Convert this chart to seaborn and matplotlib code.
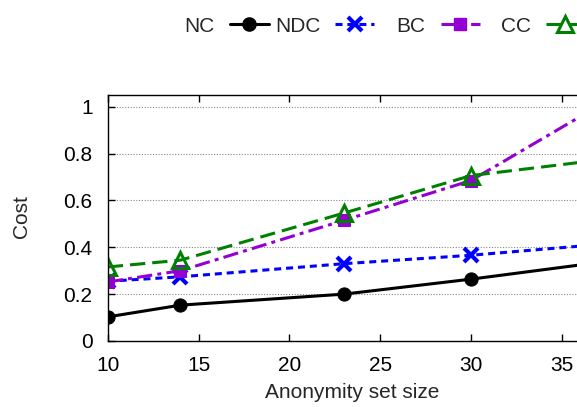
import matplotlib
matplotlib.use("Agg")
import matplotlib.pyplot as plt
import seaborn as sns
import pandas as pd
from matplotlib.lines import Line2D

x_vals = [10, 14, 23, 30, 40]
nc = [0.103, 0.153, 0.200, 0.264, 0.365]
ndc = [0.255, 0.274, 0.330, 0.366, 0.431]
bc = [0.252, 0.300, 0.515, 0.685, 1.139]
cc = [0.316, 0.345, 0.546, 0.706, 0.800]
labels = ["NC", "NDC", "BC", "CC"]
y_ticks = [0, 0.2, 0.4, 0.6, 0.8, 1]
y_ticklabels = ["0", "0.2", "0.4", "0.6", "0.8", "1"]
x_ticks = [10, 15, 20, 25, 30, 35]

sns.set_theme(style="white")
plt.rcParams['font.family'] = ['Liberation Sans', 'DejaVu Sans']

FS = 15

W, H = 577, 407
fig = plt.figure(figsize=(W / 100, H / 100), dpi=100)
# axes extend past the right edge like the cropped reference
left = 107.8 / W
bottom = (H - 341) / H
top = 1 - 95 / H
ax_w_px = 30 * 18.16
ax = fig.add_axes([left, bottom, ax_w_px / W, top - bottom])

LW = 2.2
styles = [
    dict(color="black", marker="o", ms=9.5, mec="black", mfc="black", dashes=None),
    dict(color="#0000ff", marker="x", ms=10, mec="#0000ff", mew=3, dashes=(2.3, 1.6)),
    dict(color="#9400d3", marker="s", ms=8.5, mec="#9400d3", mfc="#9400d3", dashes=(5, 1.7, 1.3, 1.7)),
    dict(color="#008000", marker="^", ms=12, mec="#008000", mfc="none", mew=2.2, dashes=(5, 2.3)),
]
series = [nc, ndc, bc, cc]
handles = []
for lab, ys, st in zip(labels, series, styles):
    st = dict(st)
    dashes = st.pop("dashes")
    df = pd.DataFrame({"x": x_vals, "y": ys})
    sns.lineplot(data=df, x="x", y="y", ax=ax, lw=LW, **st)
    line = ax.lines[-1]
    if dashes is not None:
        line.set_dashes(dashes)
    h = Line2D([0], [0], color=st["color"], lw=LW, marker=st["marker"], ms=st["ms"],
               mec=st.get("mec"), mfc=st.get("mfc", st["color"]), mew=st.get("mew", 1))
    if dashes is not None:
        h.set_dashes(dashes)
    handles.append(h)

ax.set_xlim(10, 40)
ax.set_ylim(0, 1.05)
ax.set_xticks(x_ticks)
ax.set_yticks(y_ticks)
ax.set_yticklabels(y_ticklabels)
for yv in y_ticks[1:]:
    ax.axhline(yv, color="#888888", lw=0.8, ls=(0, (1, 1.5)), zorder=0)
ax.tick_params(axis="both", direction="in", length=5, width=1, labelsize=FS,
               top=True, bottom=True, left=True, right=False, colors="black")
ax.tick_params(axis="x", pad=10.5)
ax.tick_params(axis="y", pad=11)
for s in ax.spines.values():
    s.set_color("black")
    s.set_linewidth(1)
ax.set_xlabel("Anonymity set size", fontsize=FS)
ax.set_ylabel("Cost", fontsize=FS)
ax.xaxis.set_label_coords((352 - 107.8) / ax_w_px, (341 - 383) / 246)
ax.yaxis.set_label_coords((31 - 107.8) / ax_w_px, 0.506)

# gnuplot-style key: right-aligned text before each sample, fixed column pitch
for i, (h, lab) in enumerate(zip(handles, labels)):
    fig.legend([h], [lab], markerfirst=False, frameon=False,
               loc="center right", bbox_to_anchor=((269 + 105.3 * i) / W, 1 - 26 / H),
               fontsize=FS, handlelength=1.875, handletextpad=0.72,
               borderaxespad=0, borderpad=0)

fig.savefig("out.png", dpi=100)
